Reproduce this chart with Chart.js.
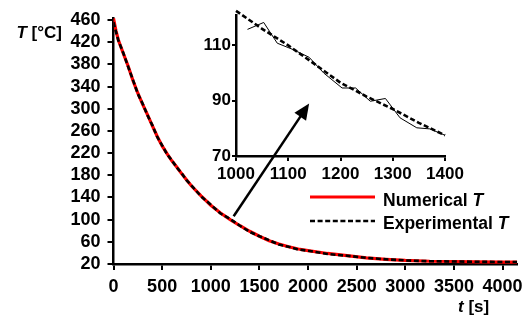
<!DOCTYPE html>
<html><head><meta charset="utf-8">
<script src="https://cdn.jsdelivr.net/npm/chart.js@4/dist/chart.umd.min.js"></script>
<style>
html,body{margin:0;padding:0;background:#fff;}
#wrap{position:relative;width:529px;height:320px;overflow:hidden;}
canvas{position:absolute;left:0;top:0;}
</style></head><body>
<div id="wrap"><canvas id="main" width="529" height="320"></canvas><canvas id="inset" width="529" height="320"></canvas></div>
<script>
// ---- main chart data ----
const timeMain = [0,25,50,100,150,200,250,300,350,400,450,500,550,600,650,700,750,800,900,1000,1100,1200,1300,1400,1500,1600,1700,1800,1900,2000,2200,2400,2600,2800,3000,3250,3500,3750,4000,4150];
const numericalT = [463,441,424,400,377,351,328,308,289,269,250,233,219,206,195,183,172,161,143,126,112,100,89,79,70,62,56,51,47,44,39,35,31,28.5,26.5,25,24.5,24,23.5,23.5];
const experimentalT = [456,439,423,401,376,352,327,309,288,270,249,234,218,207,194,184,171,162,142,127,111,101,89,78,70,63,55,51,46,44,38,35,31,28.5,26.5,25,24.5,24,23.5,23.5];
const xTicksMain = [0,500,1000,1500,2000,2500,3000,3500,4000];
const yTicksMain = [20,60,100,140,180,220,260,300,340,380,420,460];
// ---- inset data ----
const insetTimeSmooth = [1000,1050,1100,1150,1200,1250,1300,1350,1400];
const insetSmoothT = [122.5,116,110,103.3,96.5,91.5,87,82,77.5];
const insetTimeRaw = [1022,1053,1079,1108,1140,1168,1203,1229,1257,1286,1314,1346,1371,1400];
const insetRawT = [115.8,118.3,110.8,108.6,105.7,100,94.6,94.6,89.8,90.8,83.8,80.2,79.8,77.5];
const xTicksInset = [1000,1100,1200,1300,1400];
const yTicksInset = [70,90,110];
// ---- labels ----
const seriesNames = ['Numerical', 'Experimental'];
const yTitle = ['T', ' [°C]'];
const xTitle = ['t', ' [s]'];

const FAM = "'Liberation Sans', Arial, sans-serif";
Chart.defaults.color = '#000';

function pts(xs, ys){ return xs.map((x,i)=>({x:x, y:ys[i]})); }

function drawMixed(ctx, x, y, parts, size){
  let cx = x;
  ctx.textBaseline = 'alphabetic';
  ctx.textAlign = 'left';
  ctx.fillStyle = '#000';
  for (const [t, it] of parts){
    ctx.font = (it ? 'italic ' : '') + 'bold ' + size + 'px ' + FAM;
    ctx.fillText(t, cx, y);
    cx += ctx.measureText(t).width;
  }
}

const decoPlugin = {
  id: 'deco',
  afterDraw(chart){
    const ctx = chart.ctx;
    ctx.save();
    drawMixed(ctx, 16.5, 37.5, [[yTitle[0], true],[yTitle[1], false]], 17);
    drawMixed(ctx, 458, 312, [[xTitle[0], true],[xTitle[1], false]], 17);
    const ds = chart.data.datasets;
    const rows = [{d: ds[1], y: 197, ty: 205.5, name: seriesNames[0]}, {d: ds[0], y: 221, ty: 229, name: seriesNames[1]}];
    for (const r of rows){
      ctx.beginPath();
      ctx.strokeStyle = r.d.borderColor;
      ctx.lineWidth = r.d.borderWidth;
      ctx.setLineDash(r.d.borderDash || []);
      ctx.moveTo(310, r.y); ctx.lineTo(375, r.y);
      ctx.stroke();
      ctx.setLineDash([]);
      drawMixed(ctx, 383, r.ty, [[r.name + ' ', false],['T', true]], 17.5);
    }
    ctx.restore();
  }
};

function axisCommon(tickLen, pad, size){
  return {
    grid: {drawOnChartArea:false, drawTicks:true, tickLength:tickLen, color:'#000', lineWidth:2},
    border: {display:true, color:'#000', width:2.5},
    ticks: {font:{family:FAM, size:size, weight:'bold'}, color:'#000', padding:pad, maxRotation:0, autoSkip:false,
            callback: v => String(v)}
  };
}

const mainChart = new Chart(document.getElementById('main'), {
  type: 'line',
  data: {
    datasets: [
      {data: pts(timeMain, experimentalT), borderColor:'#000', borderWidth:2.6, borderDash:[5,2.6], pointRadius:0, tension:0, order:0, fill:false},
      {data: pts(timeMain, numericalT), borderColor:'#ff0000', borderWidth:3.2, pointRadius:0, tension:0, order:1, fill:false}
    ]
  },
  options: {
    responsive:false, animation:false, devicePixelRatio:1,
    layout: {padding:{left:0, right:10.5, top:14.25, bottom:16}},
    plugins: {legend:{display:false}, tooltip:{enabled:false}},
    scales: {
      x: Object.assign({type:'linear', min:0, max:4150,
        afterBuildTicks: s=>{ s.ticks = xTicksMain.map(v=>({value:v})); },
        afterFit: s=>{ s.height = 40; }}, axisCommon(6, 6, 18)),
      y: Object.assign({type:'linear', min:20, max:464,
        afterBuildTicks: s=>{ s.ticks = yTicksMain.map(v=>({value:v})); },
        afterFit: s=>{ s.width = 113.5; }}, axisCommon(6, 7, 18))
    }
  },
  plugins: [decoPlugin]
});

const arrowPlugin = {
  id: 'arrow',
  afterDraw(chart){
    const ctx = chart.ctx;
    const tx = mainChart.scales.x.getPixelForValue(1235);
    const ty = mainChart.scales.y.getPixelForValue(106);
    const hx = chart.scales.x.getPixelForValue(1140);
    const hy = chart.scales.y.getPixelForValue(89);
    const ang = Math.atan2(hy-ty, hx-tx);
    const L = 16, W = 7;
    const bx = hx - L*Math.cos(ang), by = hy - L*Math.sin(ang);
    ctx.save();
    ctx.strokeStyle = '#000'; ctx.lineWidth = 2.5;
    ctx.beginPath(); ctx.moveTo(tx, ty); ctx.lineTo(bx + 2*Math.cos(ang), by + 2*Math.sin(ang)); ctx.stroke();
    ctx.fillStyle = '#000';
    ctx.beginPath();
    ctx.moveTo(hx, hy);
    ctx.lineTo(bx + W*Math.sin(ang), by - W*Math.cos(ang));
    ctx.lineTo(bx - W*Math.sin(ang), by + W*Math.cos(ang));
    ctx.closePath(); ctx.fill();
    ctx.restore();
  }
};

const insetChart = new Chart(document.getElementById('inset'), {
  type: 'line',
  data: {
    datasets: [
      {data: pts(insetTimeSmooth, insetSmoothT), borderColor:'#000', borderWidth:2.6, borderDash:[5,2.6], pointRadius:0, tension:0, order:0, clip:false, fill:false},
      {data: pts(insetTimeRaw, insetRawT), borderColor:'#000', borderWidth:1, pointRadius:0, tension:0, order:1, clip:false, fill:false}
    ]
  },
  options: {
    responsive:false, animation:false, devicePixelRatio:1,
    layout: {padding:{left:196, right:84, top:15, bottom:134}},
    plugins: {legend:{display:false}, tooltip:{enabled:false}},
    scales: {
      x: Object.assign({type:'linear', min:1000, max:1400,
        afterBuildTicks: s=>{ s.ticks = xTicksInset.map(v=>({value:v})); },
        afterFit: s=>{ s.height = 30; }}, axisCommon(5, 3, 17)),
      y: Object.assign({type:'linear', min:70, max:121,
        afterBuildTicks: s=>{ s.ticks = yTicksInset.map(v=>({value:v})); },
        afterFit: s=>{ s.width = 40; }}, axisCommon(4, 1, 17))
    }
  },
  plugins: [arrowPlugin]
});
</script>
</body></html>
